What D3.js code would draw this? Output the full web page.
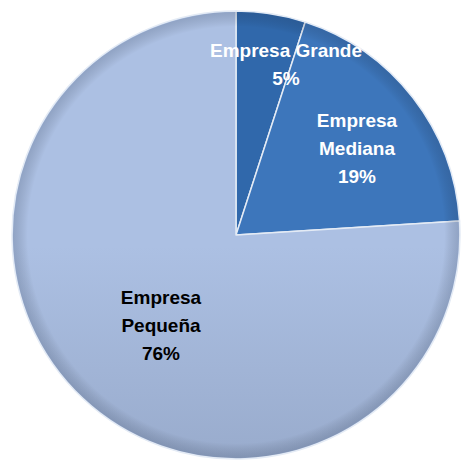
<!DOCTYPE html>
<html><head><meta charset="utf-8">
<script src="https://cdn.jsdelivr.net/npm/d3@7"></script>
<style>html,body{margin:0;padding:0;background:#fff;}svg{display:block;}</style>
</head><body>
<script>
const categories = ["Empresa Grande", "Empresa Mediana", "Empresa Pequeña"];
const values = [5, 19, 76];
const labelLines = [["Empresa Grande", "5%"], ["Empresa", "Mediana", "19%"], ["Empresa", "Pequeña", "76%"]];

const W = 462, H = 463, cx = 236, cy = 235, R = 224;
const svg = d3.select("body").append("svg").attr("width", W).attr("height", H);
const defs = svg.append("defs");

const grads = [
  {id: "g0", top: "#3068ab", bot: "#2a5d9c"},
  {id: "g1", top: "#3d76bb", bot: "#3064a4"},
  {id: "g2", top: "#acc0e3", bot: "#8495b4"}
];
grads.forEach(g => {
  const lg = defs.append("linearGradient").attr("id", g.id)
    .attr("gradientUnits", "userSpaceOnUse")
    .attr("x1", 0).attr("y1", cy - R).attr("x2", 0).attr("y2", cy + R);
  lg.append("stop").attr("offset", "0%").attr("stop-color", g.top);
  lg.append("stop").attr("offset", "100%").attr("stop-color", g.bot);
});
const rim = defs.append("radialGradient").attr("id", "rim")
  .attr("gradientUnits", "userSpaceOnUse").attr("cx", 0).attr("cy", 0).attr("r", R);
rim.append("stop").attr("offset", "93%").attr("stop-color", "#000").attr("stop-opacity", 0);
rim.append("stop").attr("offset", "100%").attr("stop-color", "#1a2a44").attr("stop-opacity", 0.2);

const pie = d3.pie().sort(null).value(d => d);
const arcs = pie(values);
const arc = d3.arc().innerRadius(0).outerRadius(R);

const g = svg.append("g").attr("transform", `translate(${cx},${cy})`);
g.selectAll("path.slice").data(arcs).join("path").attr("class", "slice")
  .attr("d", arc)
  .attr("fill", (d, i) => `url(#g${i})`)
  .attr("stroke", "#e4ebf5").attr("stroke-width", 1.5).attr("stroke-linejoin", "round");
g.selectAll("path.rim").data(arcs).join("path").attr("class", "rim")
  .attr("d", d3.arc().innerRadius(0).outerRadius(R - 1))
  .attr("fill", "url(#rim)");

const labelPos = [[286, 50], [357, 120], [161, 297]];
const colors = ["#ffffff", "#ffffff", "#000000"];
arcs.forEach((a, i) => {
  const t = svg.append("text")
    .attr("font-family", "Liberation Sans, Arial, sans-serif")
    .attr("font-weight", "bold").attr("font-size", 19)
    .attr("fill", colors[i]).attr("text-anchor", "middle");
  labelLines[i].forEach((ln, j) => {
    t.append("tspan").attr("x", labelPos[i][0]).attr("y", labelPos[i][1] + 7 + j * 28).text(ln);
  });
});
</script>
</body></html>
